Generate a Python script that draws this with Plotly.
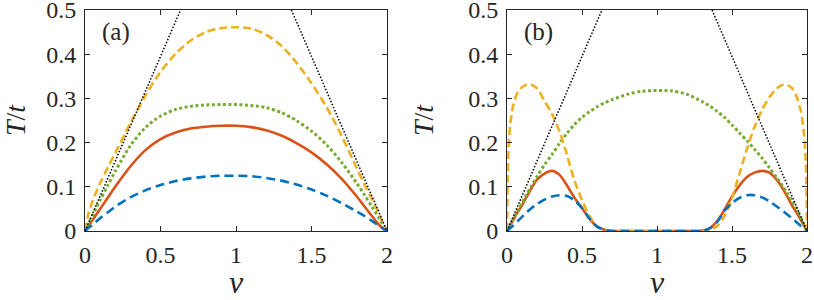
import plotly.graph_objects as go

# ---------------- data ----------------
nu_a = [0, 0.02, 0.05, 0.1, 0.15, 0.2, 0.3, 0.4, 0.5, 0.6, 0.7, 0.8, 0.9, 1.0,
        1.1, 1.2, 1.3, 1.4, 1.5, 1.6, 1.7, 1.8, 1.85, 1.9, 1.95, 1.98, 2.0]
blue_a = [0, 0.006, 0.014, 0.029, 0.042, 0.055, 0.076, 0.092, 0.104, 0.113, 0.119, 0.123, 0.125, 0.125,
          0.124, 0.12, 0.114, 0.105, 0.094, 0.08, 0.063, 0.044, 0.034, 0.023, 0.011, 0.004, 0]
red_a = [0, 0.01, 0.025, 0.05, 0.075, 0.1, 0.146, 0.183, 0.208, 0.223, 0.232, 0.236, 0.238, 0.238,
         0.235, 0.228, 0.216, 0.199, 0.178, 0.151, 0.118, 0.078, 0.056, 0.034, 0.013, 0.004, 0]
yellow_a = [0, 0.035, 0.068, 0.108, 0.143, 0.176, 0.244, 0.306, 0.36, 0.401, 0.431, 0.45, 0.459, 0.461,
            0.458, 0.444, 0.419, 0.381, 0.334, 0.28, 0.215, 0.142, 0.106, 0.072, 0.036, 0.014, 0]
green_a = [0, 0.013, 0.035, 0.07, 0.103, 0.135, 0.193, 0.234, 0.26, 0.275, 0.282, 0.285, 0.286, 0.286,
           0.284, 0.279, 0.268, 0.25, 0.226, 0.195, 0.155, 0.108, 0.082, 0.055, 0.027, 0.011, 0]

nu_b = [0, 0.005, 0.01, 0.02, 0.04, 0.07, 0.1, 0.13, 0.16, 0.2, 0.25, 0.3, 0.35, 0.4, 0.45, 0.5,
        0.55, 0.6, 0.65, 0.7, 0.8, 0.9, 1.0, 1.1, 1.2, 1.3, 1.35, 1.4, 1.45, 1.5, 1.55, 1.6, 1.65,
        1.7, 1.75, 1.8, 1.84, 1.87, 1.9, 1.93, 1.96, 1.98, 1.99, 1.995, 2.0]
blue_b = [0, 0.001, 0.003, 0.006, 0.012, 0.022, 0.032, 0.042, 0.051, 0.061, 0.071, 0.078, 0.081, 0.079,
          0.069, 0.052, 0.028, 0.01, 0.003, 0, 0, 0, 0, 0, 0, 0, 0.006, 0.02, 0.046, 0.063, 0.075,
          0.081, 0.081, 0.076, 0.067, 0.055, 0.045, 0.037, 0.029, 0.02, 0.011, 0.005, 0.003, 0.001, 0]
red_b = [0, 0.003, 0.006, 0.012, 0.024, 0.042, 0.058, 0.077, 0.095, 0.116, 0.13, 0.136, 0.127, 0.103,
         0.075, 0.052, 0.028, 0.01, 0.003, 0, 0, 0, 0, 0, 0, 0.001, 0.006, 0.022, 0.048, 0.078, 0.103,
         0.122, 0.132, 0.136, 0.132, 0.115, 0.095, 0.077, 0.058, 0.042, 0.024, 0.012, 0.006, 0.003, 0]
yellow_b = [0, 0.12, 0.18, 0.235, 0.282, 0.313, 0.325, 0.331, 0.331, 0.323, 0.294, 0.265, 0.225, 0.172,
            0.114, 0.07, 0.034, 0.011, 0.002, 0, 0, 0, 0, 0, 0, 0, 0.002, 0.011, 0.034, 0.075, 0.13,
            0.186, 0.235, 0.274, 0.303, 0.323, 0.331, 0.33, 0.323, 0.305, 0.27, 0.22, 0.17, 0.12, 0]
green_b = [0, 0.003, 0.006, 0.013, 0.026, 0.045, 0.064, 0.082, 0.1, 0.123, 0.15, 0.173, 0.198, 0.221,
           0.241, 0.257, 0.27, 0.281, 0.29, 0.297, 0.309, 0.316, 0.318, 0.317, 0.309, 0.293, 0.283,
           0.271, 0.257, 0.24, 0.222, 0.204, 0.185, 0.165, 0.143, 0.12, 0.1, 0.085, 0.068, 0.05,
           0.03, 0.015, 0.007, 0.003, 0]

# black dotted asymptotes (two straight segments, clipped by the axes)
nu_black = [0, 0.633, None, 1.367, 2.0]
black = [0, 0.5, None, 0.5, 0]

x_ticks = [0, 0.5, 1, 1.5, 2]
x_ticklabels = ["0", "0.5", "1", "1.5", "2"]
y_ticks = [0, 0.1, 0.2, 0.3, 0.4, 0.5]
y_ticklabels = ["0", "0.1", "0.2", "0.3", "0.4", "0.5"]
panel_labels = ["(a)", "(b)"]

# ---------------- styling ----------------
C_BLUE, C_RED, C_YEL, C_GRN = "#0072BD", "#D95319", "#EDB120", "#77AC30"
AX = "#262626"
FONT = "Liberation Serif"

fig = go.Figure()

def add_panel(nu, blue, red, yellow, green, xa, ya):
    common = dict(mode="lines", xaxis=xa, yaxis=ya, showlegend=False, hoverinfo="skip")
    sp = dict(shape="spline", smoothing=0.8)
    fig.add_trace(go.Scatter(x=nu, y=red, line=dict(color=C_RED, width=2.6, **sp), **common))
    fig.add_trace(go.Scatter(x=nu, y=green, line=dict(color=C_GRN, width=3, dash="3px,2.5px", **sp), **common))
    fig.add_trace(go.Scatter(x=nu, y=yellow, line=dict(color=C_YEL, width=2.6, dash="8px,4px", **sp), **common))
    fig.add_trace(go.Scatter(x=nu, y=blue, line=dict(color=C_BLUE, width=2.6, dash="9px,5px", **sp), **common))
    fig.add_trace(go.Scatter(x=nu_black, y=black, line=dict(color="black", width=1.5, dash="1.5px,1.8px"),
                             connectgaps=False, **common))

add_panel(nu_a, blue_a, red_a, yellow_a, green_a, "x", "y")
add_panel(nu_b, blue_b, red_b, yellow_b, green_b, "x2", "y2")

W, H = 814, 300
L, R, T, B = 85, 7, 10, 69
PW = W - L - R
fig.update_layout(
    template="none",
    width=W, height=H, margin=dict(l=L, r=R, t=T, b=B, autoexpand=False),
    paper_bgcolor="white", plot_bgcolor="white",
    font=dict(family=FONT, size=24, color=AX),
    xaxis=dict(domain=[0, (387 - L) / PW], anchor="y"),
    yaxis=dict(domain=[0, 1], anchor="x"),
    xaxis2=dict(domain=[(507 - L) / PW, 1], anchor="y2"),
    yaxis2=dict(domain=[0, 1], anchor="x2"),
)
axis_style = dict(showgrid=False, zeroline=False, showline=True, linecolor=AX, linewidth=1,
                  mirror="ticks", ticks="inside", ticklen=5, tickwidth=1, tickcolor=AX,
                  automargin=False, ticklabeloverflow="allow",
                  tickfont=dict(family=FONT, size=24, color=AX), tickmode="array")
fig.update_xaxes(**axis_style, range=[0, 2], tickvals=x_ticks, ticktext=x_ticklabels,
                 ticklabelstandoff=2,
                 title=dict(text="<i>ν</i>", font=dict(family=FONT, size=32, color=AX), standoff=22))
fig.update_yaxes(**axis_style, range=[0, 0.5], tickvals=y_ticks, ticktext=y_ticklabels,
                 ticklabelstandoff=3,
                 title=dict(text="<i>T</i>/<i>t</i>", font=dict(family=FONT, size=28, color=AX)))
fig.update_layout(yaxis_title_standoff=17, yaxis2_title_standoff=26)
for i, lab in enumerate(panel_labels):
    sfx = "" if i == 0 else "2"
    fig.add_annotation(text=lab, xref=f"x{sfx} domain", yref=f"y{sfx} domain",
                       x=0.05, y=0.9, xanchor="left", yanchor="middle", showarrow=False,
                       font=dict(family=FONT, size=25, color=AX))

fig.write_html("out.html", config={"displayModeBar": False},
               post_script="document.body.style.margin='0';document.body.style.padding='0';"
                           "document.documentElement.style.overflow='hidden';")
